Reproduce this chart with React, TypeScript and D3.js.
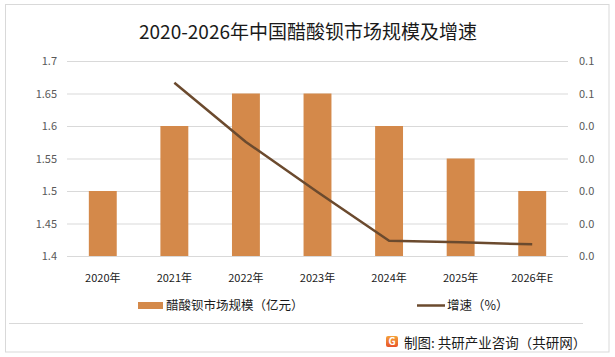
import React from "react";
import * as d3 from "d3";

const categories = ["2020年", "2021年", "2022年", "2023年", "2024年", "2025年", "2026年E"];
const marketSize = [1.5, 1.6, 1.65, 1.65, 1.6, 1.55, 1.5];
const growthRate: (number | null)[] = [null, 0.0533, 0.0351, 0.0197, 0.0047, 0.0042, 0.0036];
const leftTicks = [1.4, 1.45, 1.5, 1.55, 1.6, 1.65, 1.7];
const rightTicks = [0, 0.01, 0.02, 0.03, 0.04, 0.05, 0.06];
const rightTickLabels = ["0.0", "0.0", "0.0", "0.0", "0.0", "0.1", "0.1"];

const W = 615;
const H = 357;
const FONT = "'Noto Sans CJK SC', 'Noto Sans', sans-serif";

export default function App() {
  const plotL = 67, plotR = 568, plotT = 61, plotB = 256;
  const x = d3.scaleBand<string>().domain(categories).range([plotL, plotR]).paddingInner(0.61).paddingOuter(0.305);
  const yL = d3.scaleLinear().domain([1.4, 1.7]).range([plotB, plotT]);
  const yR = d3.scaleLinear().domain([0, 0.06]).range([plotB, plotT]);
  const cx = (c: string) => (x(c) ?? 0) + x.bandwidth() / 2;

  const pts = categories
    .map((c, i) => ({ c, v: growthRate[i] }))
    .filter((d) => d.v !== null) as { c: string; v: number }[];
  const line = d3.line<{ c: string; v: number }>().x((d) => cx(d.c)).y((d) => yR(d.v));

  return (
    <svg width={W} height={H} style={{ display: "block", position: "absolute", left: 0, top: 0 }} fontFamily={FONT}>
      <rect x={0} y={0} width={W} height={H} fill="#fff" />
      <rect x={5.5} y={4.5} width={603.5} height={347.5} fill="none" stroke="#d9d9d9" strokeWidth={1} />
      <text x={308} y={39} textAnchor="middle" fontSize={19} fill="#1a1a1a">2020-2026年中国醋酸钡市场规模及增速</text>

      {leftTicks.map((t) => (
        <g key={t}>
          <line x1={plotL} x2={plotR} y1={yL(t) + 0.5} y2={yL(t) + 0.5} stroke="#d9d9d9" strokeWidth={1} />
          <text x={57} y={yL(t) + 4} textAnchor="end" fontSize={11} fill="#595959">{t}</text>
        </g>
      ))}
      {rightTicks.map((t, i) => (
        <text key={t} x={579} y={yR(t) + 4} textAnchor="start" fontSize={11} fill="#595959">{rightTickLabels[i]}</text>
      ))}

      {categories.map((c, i) => (
        <rect key={c} x={x(c)} y={yL(marketSize[i])} width={x.bandwidth()} height={plotB - yL(marketSize[i])} fill="#d4894a" />
      ))}

      <path d={line(pts) ?? ""} fill="none" stroke="#6b4a2e" strokeWidth={2.5} strokeLinejoin="round" />

      {categories.map((c) => (
        <text key={c} x={cx(c)} y={282} textAnchor="middle" fontSize={11} fill="#1a1a1a">{c}</text>
      ))}

      <rect x={138} y={302} width={25} height={7} fill="#d4894a" />
      <text x={166} y={310} fontSize={12.5} fill="#1a1a1a">醋酸钡市场规模（亿元）</text>
      <line x1={417} x2={445} y1={305.5} y2={305.5} stroke="#6b4a2e" strokeWidth={2.5} />
      <text x={447} y={310} fontSize={12.5} fill="#1a1a1a">增速（%）</text>

      <line x1={9} x2={583} y1={323.5} y2={323.5} stroke="#d9d9d9" strokeWidth={1} />
      <defs>
        <linearGradient id="lg" x1="0" y1="0" x2="0" y2="1">
          <stop offset="0" stopColor="#f4a23a" />
          <stop offset="1" stopColor="#e8542a" />
        </linearGradient>
      </defs>
      <rect x={386} y={336} width={12} height={11} rx={2} fill="url(#lg)" />
      <text x={392} y={345} textAnchor="middle" fontSize={10} fontWeight={700} fill="#fff">G</text>
      <text x={404} y={347.5} fontSize={13.5} fill="#1a1a1a">制图: 共研产业咨询（共研网）</text>
    </svg>
  );
}
